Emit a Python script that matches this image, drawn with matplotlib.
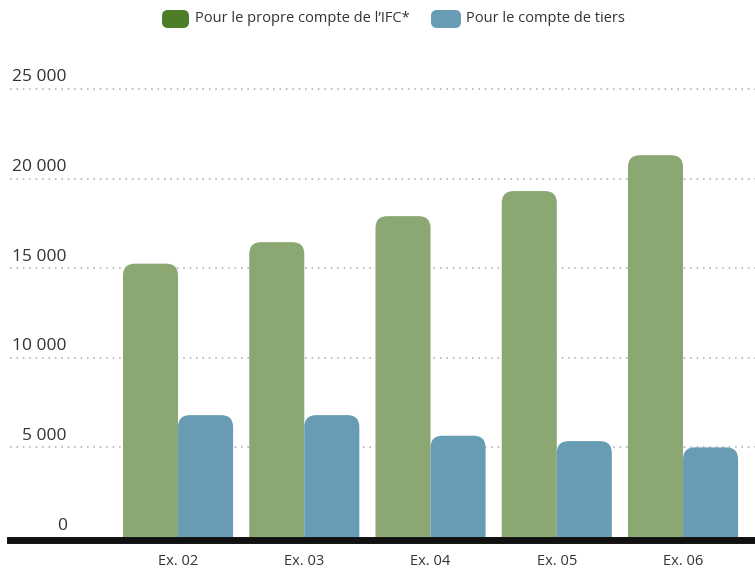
"""
IFC commitments chart: own account vs third parties
"""

import matplotlib
matplotlib.use("Agg")
import matplotlib.pyplot as plt
from matplotlib.patches import FancyBboxPatch

# data (millions)
years = ["Ex. 02", "Ex. 03", "Ex. 04", "Ex. 05", "Ex. 06"]
own_account = [15250, 16450, 17900, 19300, 21300]
third_party = [6800, 6800, 5650, 5350, 5000]
yticks = [0, 5000, 10000, 15000, 20000, 25000]
ytick_labels = ["0", "5 000", "10 000", "15 000", "20 000", "25 000"]
legend_labels = ["Pour le propre compte de l\u2019IFC*", "Pour le compte de tiers"]

green = "#8ba872"
green_dark = "#4e7d2a"
blue = "#689cb4"
text_col = "#333333"

plt.rcParams["font.family"] = ["Open Sans", "DejaVu Sans"]

W, H = 755, 568
fig = plt.figure(figsize=(W / 100, H / 100), dpi=100)

# axes placed in pixels: left 10, right 755, baseline at y=537 from top
ax_left, ax_bottom, ax_top = 10, 31, 62
ax = fig.add_axes([ax_left / W, ax_bottom / H, (W - ax_left) / W,
                   (H - ax_bottom - ax_top) / H])

xmin, xmax = -1.331, 4.570
ymin, ymax = 0, 26500
ax.set_xlim(xmin, xmax)
ax.set_ylim(ymin, ymax)

# px per data unit, used for rounded corners
px_x = (W - ax_left) / (xmax - xmin)
px_y = (H - ax_bottom - ax_top) / (ymax - ymin)
radius_px = 12
bar_w = 0.436

# dotted gridlines
for v in yticks[1:]:
    ax.axhline(v, color="#aaaaaa", lw=1.1, dashes=(1, 3.2), zorder=1)

for i, (g, b) in enumerate(zip(own_account, third_party)):
    for x0, val, col in [(i - bar_w, g, green), (i, b, blue)]:
        p = FancyBboxPatch(
            (x0, -2000), bar_w, val + 2000,
            boxstyle=f"round,pad=0,rounding_size={radius_px / px_x}",
            mutation_aspect=px_x / px_y,
            facecolor=col, edgecolor="none", zorder=2,
        )
        ax.add_patch(p)

# y labels sitting above the gridlines
for v, lab in zip(yticks, ytick_labels):
    ax.annotate(lab, xy=((67 - ax_left) / (W - ax_left), v),
                xycoords=("axes fraction", "data"), xytext=(0, 2.5),
                textcoords="offset points", ha="right", va="bottom",
                fontsize=12.5, color=text_col)

for s in ["top", "right", "left"]:
    ax.spines[s].set_visible(False)
ax.spines["bottom"].set_linewidth(5)
ax.spines["bottom"].set_color("#111111")
ax.spines["bottom"].set_position(("outward", 2.5))
ax.spines["bottom"].set_zorder(3)

ax.set_yticks([])
ax.set_xticks(range(len(years)))
ax.set_xticklabels(years, fontsize=10.5, color=text_col)
ax.tick_params(axis="x", length=0, pad=10)

# legend drawn by hand with rounded swatches
def swatch(x, y, w, h, col):
    fig.add_artist(FancyBboxPatch(
        (x / W, 1 - (y + h) / H), w / W, h / H,
        boxstyle=f"round,pad=0,rounding_size={6 / W}",
        mutation_aspect=W / H, transform=fig.transFigure,
        facecolor=col, edgecolor="none"))

swatch(162, 10, 27, 18, green_dark)
fig.text(195 / W, 1 - 19 / H, legend_labels[0], ha="left", va="center",
         fontsize=10.5, color=text_col)
swatch(431, 10, 30, 18, blue)
fig.text(466 / W, 1 - 19 / H, legend_labels[1], ha="left", va="center",
         fontsize=10.5, color=text_col)

fig.savefig("out.png", dpi=100)
